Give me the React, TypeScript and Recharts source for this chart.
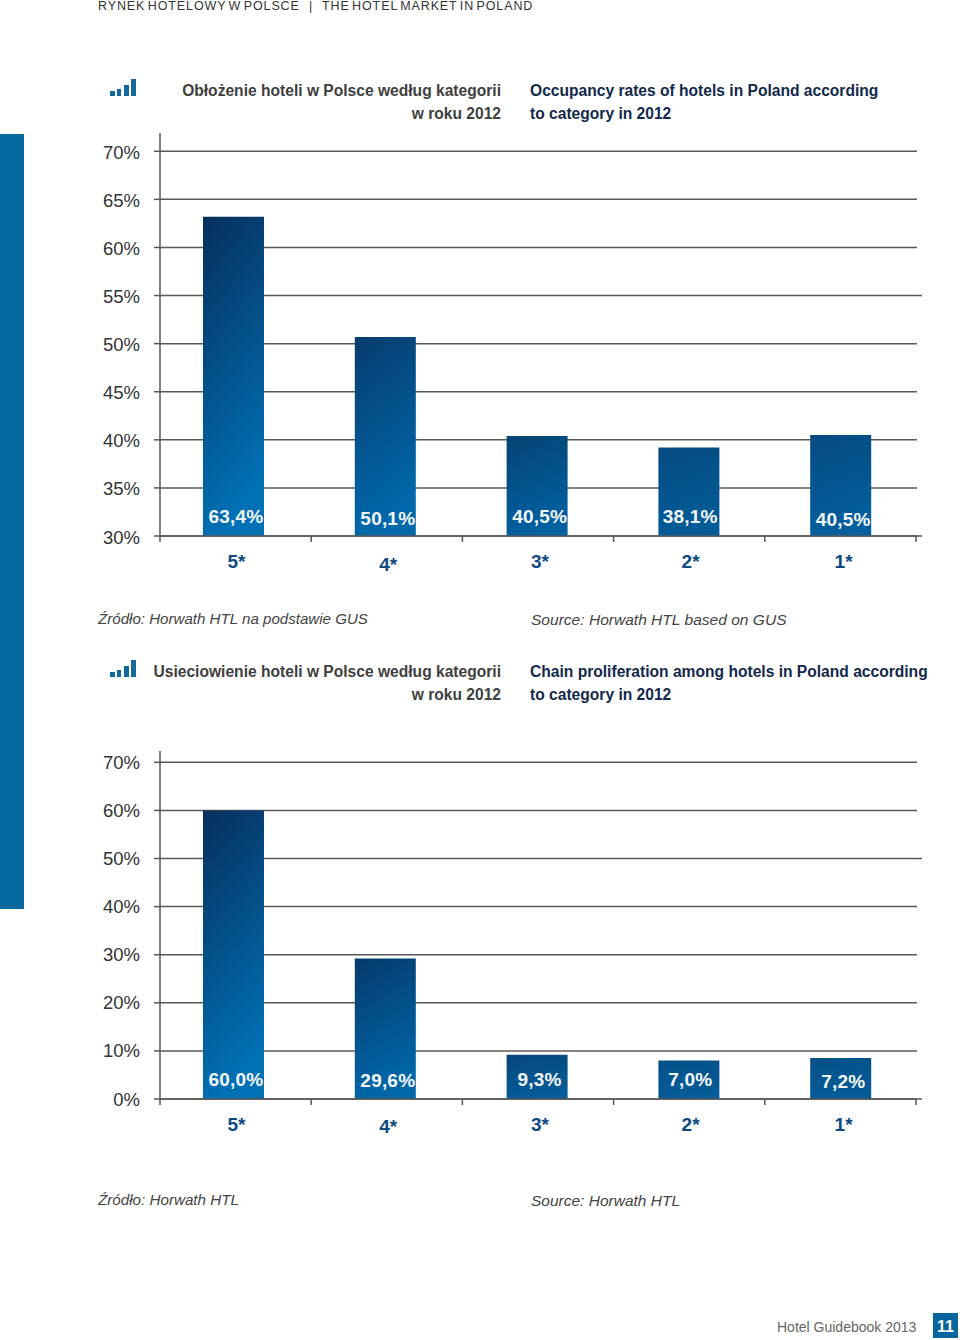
import React from "react";
import { BarChart, Bar, XAxis, YAxis, CartesianGrid, Cell, LabelList, ReferenceLine } from "recharts";

const categories = ["5*", "4*", "3*", "2*", "1*"];
const occupancyBars = [63.2, 50.7, 40.4, 39.2, 40.5];
const occupancyLabels = ["63,4%", "50,1%", "40,5%", "38,1%", "40,5%"];
const occupancyTicks = [30, 35, 40, 45, 50, 55, 60, 65, 70];
const chainBars = [60.0, 29.2, 9.2, 8.0, 8.5];
const chainLabels = ["60,0%", "29,6%", "9,3%", "7,0%", "7,2%"];
const chainTicks = [0, 10, 20, 30, 40, 50, 60, 70];

const occupancyTopColors = ["#062f5c", "#063c6e", "#054474", "#054a80", "#054a80"];
const occupancyBottomColors = ["#0071b5", "#0069ab", "#0060a0", "#025c98", "#035f9e"];
const chainTopColors = ["#062f5c", "#053a6c", "#05477a", "#055088", "#055088"];
const chainBottomColors = ["#0071b5", "#0067a8", "#045c98", "#045c98", "#045c98"];

const occupancyCatDy = [0, 3, 0, 0, 0];
const occupancyLabelDy = [0, 2, 0, 0, 3];
const chainCatDy = [0, 2, 0, 0, 0];
const chainLabelDy = [0, 1, 0, 0, 2];
const labelDx = [0, 0, 0, -1.2, 0];

const FONT = "'Liberation Sans', Arial, sans-serif";
const LINE = "#585858";
const PLOT_LEFT = 160;
const PLOT_RIGHT = 917;

function Panel(props: any) {
  const { id, values, labels, ticks, domain, tops, bottoms, catDy, labelDy, top, height, xAxisHeight, stubs, tickDy } = props;
  const data = categories.map((c, i) => ({ category: c, value: values[i], label: labels[i] }));
  const CatTick = (p: any) => {
    const i = p.index;
    const tx = PLOT_LEFT + ((i + 1) * (PLOT_RIGHT - 1 - PLOT_LEFT)) / 5;
    return (
      <g>
        {i === 0 && <line x1={PLOT_LEFT} x2={PLOT_LEFT} y1={p.y} y2={p.y + 6} stroke={LINE} strokeWidth={1.5} />}
        <line x1={tx} x2={tx} y1={p.y} y2={p.y + 6} stroke={LINE} strokeWidth={1.5} />
        <text x={p.x + 2.5 + labelDx[i]} y={p.y + 32 + catDy[i]} textAnchor="middle" fontFamily={FONT} fontWeight="bold" fontSize={19} fill="#0e4a82">
          {p.payload.value}
        </text>
      </g>
    );
  };
  const ValTick = (p: any) => (
    <text x={p.x} y={p.y + 6.5 + tickDy} textAnchor="end" fontFamily={FONT} fontSize={18.5} fill="#333333">
      {`${p.payload.value}%`}
    </text>
  );
  const ValueLabel = (p: any) => (
    <text
      x={p.x + p.width / 2 + 2.5 + labelDx[p.index]}
      y={p.y + p.height - 13 + labelDy[p.index]}
      textAnchor="middle"
      fontFamily={FONT}
      fontWeight="bold"
      fontSize={19}
      letterSpacing={0.2}
      fill="#f4f7fa"
    >
      {p.value}
    </text>
  );
  const Stub = (p: any) => (
    <line x1={p.x2} x2={p.x2 + p.extra} y1={p.y1} y2={p.y2} stroke={LINE} strokeWidth={1.5} />
  );
  return (
    <div style={{ position: "absolute", left: 0, top, width: 960, height }}>
      <BarChart width={960} height={height} data={data} margin={{ top: 10, right: 960 - PLOT_RIGHT, bottom: 0, left: 100 }} barSize={61}>
        <defs>
          {categories.map((c, i) => (
            <linearGradient key={c} id={`${id}-${i}`} x1="0" y1="0" x2="0.25" y2="1">
              <stop offset="0%" stopColor={tops[i]} />
              <stop offset="100%" stopColor={bottoms[i]} />
            </linearGradient>
          ))}
        </defs>
        <CartesianGrid vertical={false} stroke={LINE} strokeWidth={1.5} syncWithTicks />
        <XAxis
          dataKey="category"
          height={xAxisHeight}
          padding={{ left: -2, right: 0 }}
          interval={0}
          axisLine={{ stroke: LINE, strokeWidth: 1.5 }}
          tickLine={false}
          tickSize={0}
          tickMargin={0}
          tick={<CatTick />}
        />
        <YAxis
          type="number"
          width={60}
          domain={domain}
          ticks={ticks}
          interval={0}
          allowDataOverflow
          axisLine={{ stroke: LINE, strokeWidth: 1.5 }}
          tickLine={{ stroke: LINE, strokeWidth: 1.5 }}
          tickSize={6}
          tickMargin={14}
          tick={<ValTick />}
        />
        <Bar dataKey="value" isAnimationActive={false}>
          {categories.map((c, i) => (
            <Cell key={c} fill={`url(#${id}-${i})`} />
          ))}
          <LabelList dataKey="label" content={<ValueLabel />} />
        </Bar>
        {stubs.map((s: number) => (
          <ReferenceLine key={s} y={s} stroke="none" shape={(p: any) => <Stub {...p} extra={5} />} />
        ))}
      </BarChart>
    </div>
  );
}

function Text(props: any) {
  const { x, y, right, size, color, bold, italic, spacing, wordSpacing, children } = props;
  return (
    <div
      style={{
        position: "absolute",
        ...(right !== undefined ? { right: 960 - right } : { left: x }),
        top: y,
        fontFamily: FONT,
        fontSize: size,
        lineHeight: `${Math.round(size * 1.2)}px`,
        color,
        fontWeight: bold ? "bold" : "normal",
        fontStyle: italic ? "italic" : "normal",
        letterSpacing: spacing ?? 0,
        wordSpacing: wordSpacing ?? 0,
        whiteSpace: "nowrap",
      }}
    >
      {children}
    </div>
  );
}

function Icon({ x, y }: { x: number; y: number }) {
  return (
    <svg style={{ position: "absolute", left: x, top: y }} width={28} height={18}>
      <rect x={1} y={12} width={5} height={5} fill="#13699a" />
      <rect x={8} y={10} width={4} height={7} fill="#13699a" />
      <rect x={15} y={6} width={5} height={11} fill="#13699a" />
      <rect x={22} y={0} width={5} height={17} fill="#13699a" />
    </svg>
  );
}

export default function App() {
  return (
    <div style={{ position: "absolute", left: 0, top: 0, width: 960, height: 1340, background: "#ffffff", overflow: "hidden" }}>
      <div style={{ position: "absolute", left: 0, top: 134, width: 24, height: 775, background: "#04699e" }} />
      <Text x={98} y={-1} size={12.5} color="#333333" spacing={0.9} wordSpacing={-2}>RYNEK HOTELOWY W POLSCE</Text>
      <Text x={309} y={-1} size={12.5} color="#333333">|</Text>
      <Text x={322} y={-1} size={12.5} color="#333333" spacing={0.9} wordSpacing={-2}>THE HOTEL MARKET IN POLAND</Text>

      <Icon x={109} y={79} />
      <Text right={501} y={81} size={15.6} color="#404040" bold>Obłożenie hoteli w Polsce według kategorii</Text>
      <Text right={501} y={104} size={15.6} color="#404040" bold>w roku 2012</Text>
      <Text x={530} y={81} size={15.6} color="#13294b" bold>Occupancy rates of hotels in Poland according</Text>
      <Text x={530} y={104} size={15.6} color="#13294b" bold>to category in 2012</Text>

      <Panel
        id="occ"
        values={occupancyBars}
        labels={occupancyLabels}
        ticks={occupancyTicks}
        domain={[30, 71.9]}
        tops={occupancyTopColors}
        bottoms={occupancyBottomColors}
        catDy={occupancyCatDy}
        labelDy={occupancyLabelDy}
        top={123}
        height={490}
        xAxisHeight={77}
        stubs={[30, 55]}
        tickDy={1}
      />

      <Text x={98} y={610} size={15.1} color="#444444" italic>Źródło: Horwath HTL na podstawie GUS</Text>
      <Text x={531} y={610} size={15.55} color="#444444" italic>Source: Horwath HTL based on GUS</Text>

      <Icon x={109} y={660} />
      <Text right={501} y={662} size={15.6} color="#404040" bold>Usieciowienie hoteli w Polsce według kategorii</Text>
      <Text right={501} y={685} size={15.6} color="#404040" bold>w roku 2012</Text>
      <Text x={530} y={662} size={15.6} color="#13294b" bold>Chain proliferation among hotels in Poland according</Text>
      <Text x={530} y={685} size={15.6} color="#13294b" bold>to category in 2012</Text>

      <Panel
        id="chain"
        values={chainBars}
        labels={chainLabels}
        ticks={chainTicks}
        domain={[0, 72.35]}
        tops={chainTopColors}
        bottoms={chainBottomColors}
        catDy={chainCatDy}
        labelDy={chainLabelDy}
        top={741}
        height={435}
        xAxisHeight={77}
        stubs={[0, 50]}
        tickDy={0}
      />

      <Text x={98} y={1191} size={15.2} color="#444444" italic>Źródło: Horwath HTL</Text>
      <Text x={531} y={1191} size={15.5} color="#444444" italic>Source: Horwath HTL</Text>

      <Text x={777} y={1319} size={14} color="#666666">Hotel Guidebook 2013</Text>
      <div style={{ position: "absolute", left: 933, top: 1313, width: 25, height: 25, background: "#06659f", color: "#ffffff", fontFamily: FONT, fontWeight: "bold", fontSize: 16, lineHeight: "27px", textAlign: "center" }}>11</div>
    </div>
  );
}
